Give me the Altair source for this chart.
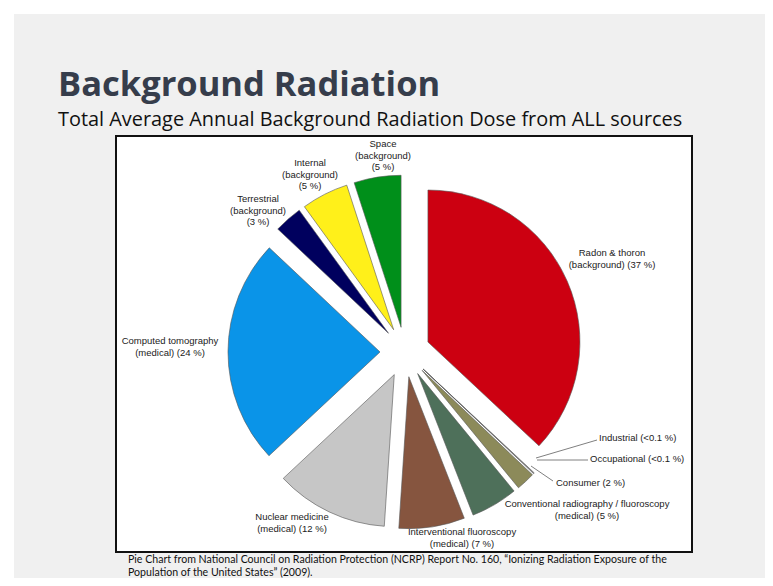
import altair as alt
import pandas as pd

# ---------------- data ----------------
categories = [
    "Radon & thoron (background)",
    "Industrial",
    "Occupational",
    "Consumer",
    "Conventional radiography / fluoroscopy (medical)",
    "Interventional fluoroscopy (medical)",
    "Nuclear medicine (medical)",
    "Computed tomography (medical)",
    "Terrestrial (background)",
    "Internal (background)",
    "Space (background)",
]
percent = [37, 0.05, 0.05, 2, 5, 7, 12, 24, 3, 5, 5]
label_text = [
    "Radon & thoron\n(background) (37 %)",
    "Industrial (<0.1 %)",
    "Occupational (<0.1 %)",
    "Consumer (2 %)",
    "Conventional radiography / fluoroscopy\n(medical) (5 %)",
    "Interventional fluoroscopy\n(medical) (7 %)",
    "Nuclear medicine\n(medical) (12 %)",
    "Computed tomography\n(medical) (24 %)",
    "Terrestrial\n(background)\n(3 %)",
    "Internal\n(background)\n(5 %)",
    "Space\n(background)\n(5 %)",
]
colors = [
    "#cc0011", "#f6f6f6", "#ececec", "#8c8a5a", "#4e705a", "#86553f",
    "#c6c6c6", "#0a94e8", "#00005e", "#fff01a", "#008f1a",
]

title = "Background Radiation"
subtitle = "Total Average Annual Background Radiation Dose from ALL sources"
caption = [
    "Pie Chart from National Council on Radiation Protection (NCRP) Report No. 160, \u201cIonizing Radiation Exposure of the",
    "Population of the United States\u201d (2009).",
]

# ---------------- layout (chart pixel coordinates) ----------------
W, H = 757, 570
CX, CY, R, D = 397, 344, 152, 25

# label anchors: (x, y-top, align)
label_layout = {
    "Radon & thoron (background)": (604, 240, "center"),
    "Industrial": (591, 425, "left"),
    "Occupational": (582, 446, "left"),
    "Consumer": (548, 470, "left"),
    "Conventional radiography / fluoroscopy (medical)": (579, 491, "center"),
    "Interventional fluoroscopy (medical)": (454, 519, "center"),
    "Nuclear medicine (medical)": (284, 504, "center"),
    "Computed tomography (medical)": (162, 328, "center"),
    "Terrestrial (background)": (250, 186, "center"),
    "Internal (background)": (302, 150, "center"),
    "Space (background)": (375, 131, "center"),
}
leaders = [  # x, y, x2, y2
    (528, 450, 589, 432),
    (529, 452, 580, 452),
    (523, 458, 545, 473),
]

df = pd.DataFrame({
    "order": list(range(len(categories))),
    "category": categories,
    "value": percent,
})

font = "Liberation Sans"

bg = alt.Chart(pd.DataFrame({"a": [0]})).mark_rect(color="#f0f0f0").encode(
    x=alt.value(6), x2=alt.value(W), y=alt.value(6), y2=alt.value(H)
)
frame = alt.Chart(pd.DataFrame({"a": [0]})).mark_rect(
    fill="white", stroke="#111111", strokeWidth=2
).encode(x=alt.value(108), x2=alt.value(684), y=alt.value(128), y2=alt.value(544))

pie = (
    alt.Chart(df)
    .transform_joinaggregate(total="sum(value)")
    .transform_window(cum="sum(value)", sort=[alt.SortField("order")], frame=[None, 0])
    .transform_calculate(
        a0="(datum.cum - datum.value) / datum.total * 2 * PI",
        a1="datum.cum / datum.total * 2 * PI",
    )
    .transform_calculate(mid="(datum.a0 + datum.a1) / 2")
    .transform_calculate(
        px=f"{CX} + {D} * sin(datum.mid)",
        py=f"{CY} - {D} * cos(datum.mid)",
    )
    .mark_arc(radius=R, stroke="#555555", strokeWidth=0.6)
    .encode(
        x=alt.X("px:Q", scale=None, axis=None),
        y=alt.Y("py:Q", scale=None, axis=None),
        theta=alt.Theta("a0:Q", scale=None),
        theta2=alt.Theta2("a1:Q"),
        color=alt.Color("category:N", scale=alt.Scale(domain=categories, range=colors), legend=None),
        tooltip=["category:N", "value:Q"],
    )
)

ldf = pd.DataFrame(leaders, columns=["x", "y", "x2", "y2"])
lines = alt.Chart(ldf).mark_rule(color="#808080", strokeWidth=1).encode(
    x=alt.X("x:Q", scale=None, axis=None),
    y=alt.Y("y:Q", scale=None, axis=None),
    x2="x2:Q",
    y2="y2:Q",
)

lab = pd.DataFrame({
    "text": label_text,
    "x": [label_layout[c][0] for c in categories],
    "y": [label_layout[c][1] for c in categories],
    "align": [label_layout[c][2] for c in categories],
})

def label_layer(al):
    return alt.Chart(lab[lab["align"] == al]).mark_text(
        align=al, baseline="top", font=font, fontSize=9.5, lineHeight=11.5,
        lineBreak="\n", color="#222222",
    ).encode(
        x=alt.X("x:Q", scale=None, axis=None),
        y=alt.Y("y:Q", scale=None, axis=None),
        text="text:N",
    )

title_l = alt.Chart(pd.DataFrame({"t": [title]})).mark_text(
    align="left", baseline="alphabetic", font="Open Sans", fontWeight="bold",
    fontSize=34.5, color="#363d4b",
).encode(x=alt.value(50), y=alt.value(88), text="t:N")

sub_l = alt.Chart(pd.DataFrame({"t": [subtitle]})).mark_text(
    align="left", baseline="alphabetic", font="Open Sans", fontSize=19.9, color="#111111",
).encode(x=alt.value(50), y=alt.value(118), text="t:N")

cap_l = alt.Chart(pd.DataFrame({"t": caption, "y": [555, 568]})).mark_text(
    align="left", baseline="alphabetic", font="Lato", fontSize=10.6, color="#111111",
).encode(x=alt.value(120), y=alt.Y("y:Q", scale=None, axis=None), text="t:N")

chart = alt.layer(
    bg, frame, pie, lines, label_layer("center"), label_layer("left"), title_l, sub_l, cap_l
).properties(
    width=W, height=H, padding=0, background="white",
    autosize=alt.AutoSizeParams(type="none"),
).configure_view(stroke=None)

chart.save("out.html", embed_options={"renderer": "svg", "actions": False})
